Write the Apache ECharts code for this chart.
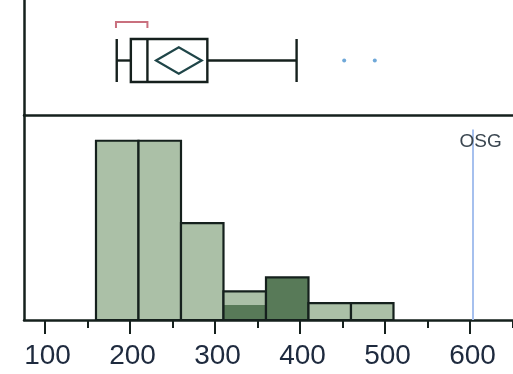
<!DOCTYPE html>
<html>
<head>
<meta charset="utf-8">
<script src="https://cdn.jsdelivr.net/npm/echarts@6/dist/echarts.min.js"></script>
<style>
  html, body { margin: 0; padding: 0; background: #fff; }
  #chart { width: 513px; height: 374px; }
</style>
</head>
<body>
<div id="chart"></div>
<script>
// Distribution of the measured values: box plot on top, percent histogram below.
const xMin = 75.3;
const xMax = 650.6;

// Histogram bins (width 50) and percent of all observations per bin
const binStarts = [160, 210, 260, 310, 360, 410, 460];
const binWidth = 50;
const binPercent = [32, 32, 17.3, 5.1, 7.6, 3, 3];
// Share of the highlighted subset inside each bin
const selectedPercent = [0, 0, 0, 2.7, 7.6, 0, 0];

// Box plot summary: lower whisker, Q1, median, Q3, upper whisker
const boxStats = [184.4, 201, 220.5, 291, 396];
// Mean with its 95% confidence interval (diamond)
const meanCI = [230.6, 257.4, 284.4];
const outliers = [452, 488];
// Shortest half bracket
const shortestHalf = [183.5, 220.5];

// Reference line
const refValue = 603;
const refLabel = 'OSG';

// Axis ticks and labels
const majorTicks = [100, 200, 300, 400, 500, 600];
const minorTicks = [150, 250, 350, 450, 550, 650];

const ink = '#15201d';
const FONT = "'Liberation Sans', Arial, sans-serif";

const histData = binStarts.map((s, i) => [s, s + binWidth, binPercent[i], selectedPercent[i]]);

const chart = echarts.init(document.getElementById('chart'), null, { renderer: 'canvas' });

function renderBar(params, api) {
  const x0 = api.value(0), x1 = api.value(1), v = api.value(2), s = api.value(3);
  const base = api.coord([x0, 0]);
  const top = api.coord([x1, v]);
  const children = [{
    type: 'rect',
    shape: { x: base[0], y: top[1], width: top[0] - base[0], height: base[1] - top[1] },
    style: { fill: '#abc0a7' }
  }];
  if (s > 0) {
    const st = api.coord([x1, s]);
    children.push({
      type: 'rect',
      shape: { x: base[0], y: st[1], width: top[0] - base[0], height: base[1] - st[1] },
      style: { fill: '#587a58' }
    });
  }
  children.push({
    type: 'rect',
    shape: { x: base[0], y: top[1], width: top[0] - base[0], height: base[1] - top[1] },
    style: { fill: null, stroke: ink, lineWidth: 2.2 }
  });
  return { type: 'group', children };
}

function renderBox(params, api) {
  const cs = params.coordSys;
  const cy = cs.y + 60.5;
  const half = 21.5;
  const px = v => api.coord([v, 0.5])[0];
  const [lw, q1, med, q3, hw] = boxStats.map(px);
  const line = (x1, y1, x2, y2, color, w) => ({
    type: 'line', shape: { x1, y1, x2, y2 },
    style: { stroke: color || ink, lineWidth: w || 2.4 }
  });
  const children = [
    line(lw, cy, q1, cy),
    line(q3, cy, hw, cy),
    line(lw, cy - half, lw, cy + half),
    line(hw, cy - half, hw, cy + half),
    { type: 'rect', shape: { x: q1, y: cy - half, width: q3 - q1, height: 2 * half },
      style: { fill: '#fff', stroke: ink, lineWidth: 2.4 } },
    line(med, cy - half, med, cy + half)
  ];
  const [cl, m, ch] = meanCI.map(px);
  children.push({
    type: 'polygon',
    shape: { points: [[cl, cy], [m, cy - 13.3], [ch, cy], [m, cy + 13.3]] },
    style: { fill: null, stroke: '#1f4548', lineWidth: 2.2 }
  });
  outliers.forEach(o => {
    children.push({ type: 'circle', shape: { cx: px(o), cy, r: 2 }, style: { fill: '#6fa8d8' } });
  });
  const a = px(shortestHalf[0]), b = px(shortestHalf[1]);
  children.push({
    type: 'polyline',
    shape: { points: [[a, 28], [a, 22], [b, 22], [b, 28]] },
    style: { fill: null, stroke: '#c9707e', lineWidth: 2 }
  });
  return { type: 'group', children };
}

const option = {
  animation: false,
  backgroundColor: '#fff',
  grid: [
    { left: 24, right: 0, top: 0, height: 115 },
    { left: 24, right: 0, top: 115, height: 205 }
  ],
  xAxis: [
    { gridIndex: 0, type: 'value', min: xMin, max: xMax, position: 'bottom',
      axisLine: { show: true, lineStyle: { color: ink, width: 2.5 } },
      axisTick: { show: false }, axisLabel: { show: false }, splitLine: { show: false } },
    { gridIndex: 1, type: 'value', min: xMin, max: xMax, position: 'bottom',
      axisLine: { show: true, lineStyle: { color: ink, width: 2.5 } },
      axisTick: { show: true, customValues: majorTicks, length: 14, lineStyle: { color: ink, width: 2 } },
      axisLabel: { show: true, customValues: majorTicks, fontSize: 28, fontFamily: FONT,
                   color: '#1e2a3e', margin: 22, padding: [0, 0, 0, 5] },
      splitLine: { show: false } },
    { gridIndex: 1, type: 'value', min: xMin, max: xMax, position: 'bottom', offset: 0,
      axisLine: { show: false },
      axisTick: { show: true, customValues: minorTicks, length: 8, lineStyle: { color: ink, width: 2 } },
      axisLabel: { show: false }, splitLine: { show: false } }
  ],
  yAxis: [
    { gridIndex: 0, type: 'value', min: 0, max: 1,
      axisLine: { show: true, lineStyle: { color: ink, width: 2.5 } },
      axisTick: { show: false }, axisLabel: { show: false }, splitLine: { show: false } },
    { gridIndex: 1, type: 'value', min: 0, max: 36.6,
      axisLine: { show: true, lineStyle: { color: ink, width: 2.5 } },
      axisTick: { show: false }, axisLabel: { show: false }, splitLine: { show: false } }
  ],
  series: [
    {
      type: 'custom', xAxisIndex: 0, yAxisIndex: 0,
      renderItem: renderBox, data: [[boxStats[2], 0.5]], encode: { x: 0, y: 1 }, silent: true
    },
    {
      type: 'custom', xAxisIndex: 1, yAxisIndex: 1,
      renderItem: renderBar, data: histData, encode: { x: [0, 1], y: 2 }, silent: true,
      z: 2,
      markLine: {
        silent: true, symbol: 'none', z: 1,
        lineStyle: { color: '#a6c0ee', width: 2, type: 'solid' },
        label: { show: true, formatter: refLabel, position: 'end', distance: 0,
                 fontSize: 19, fontFamily: FONT, color: '#3a4650', offset: [8, 22] },
        data: [[{ coord: [refValue, 0] }, { coord: [refValue, 34] }]]
      }
    }
  ]
};

chart.setOption(option);
</script>
</body>
</html>
